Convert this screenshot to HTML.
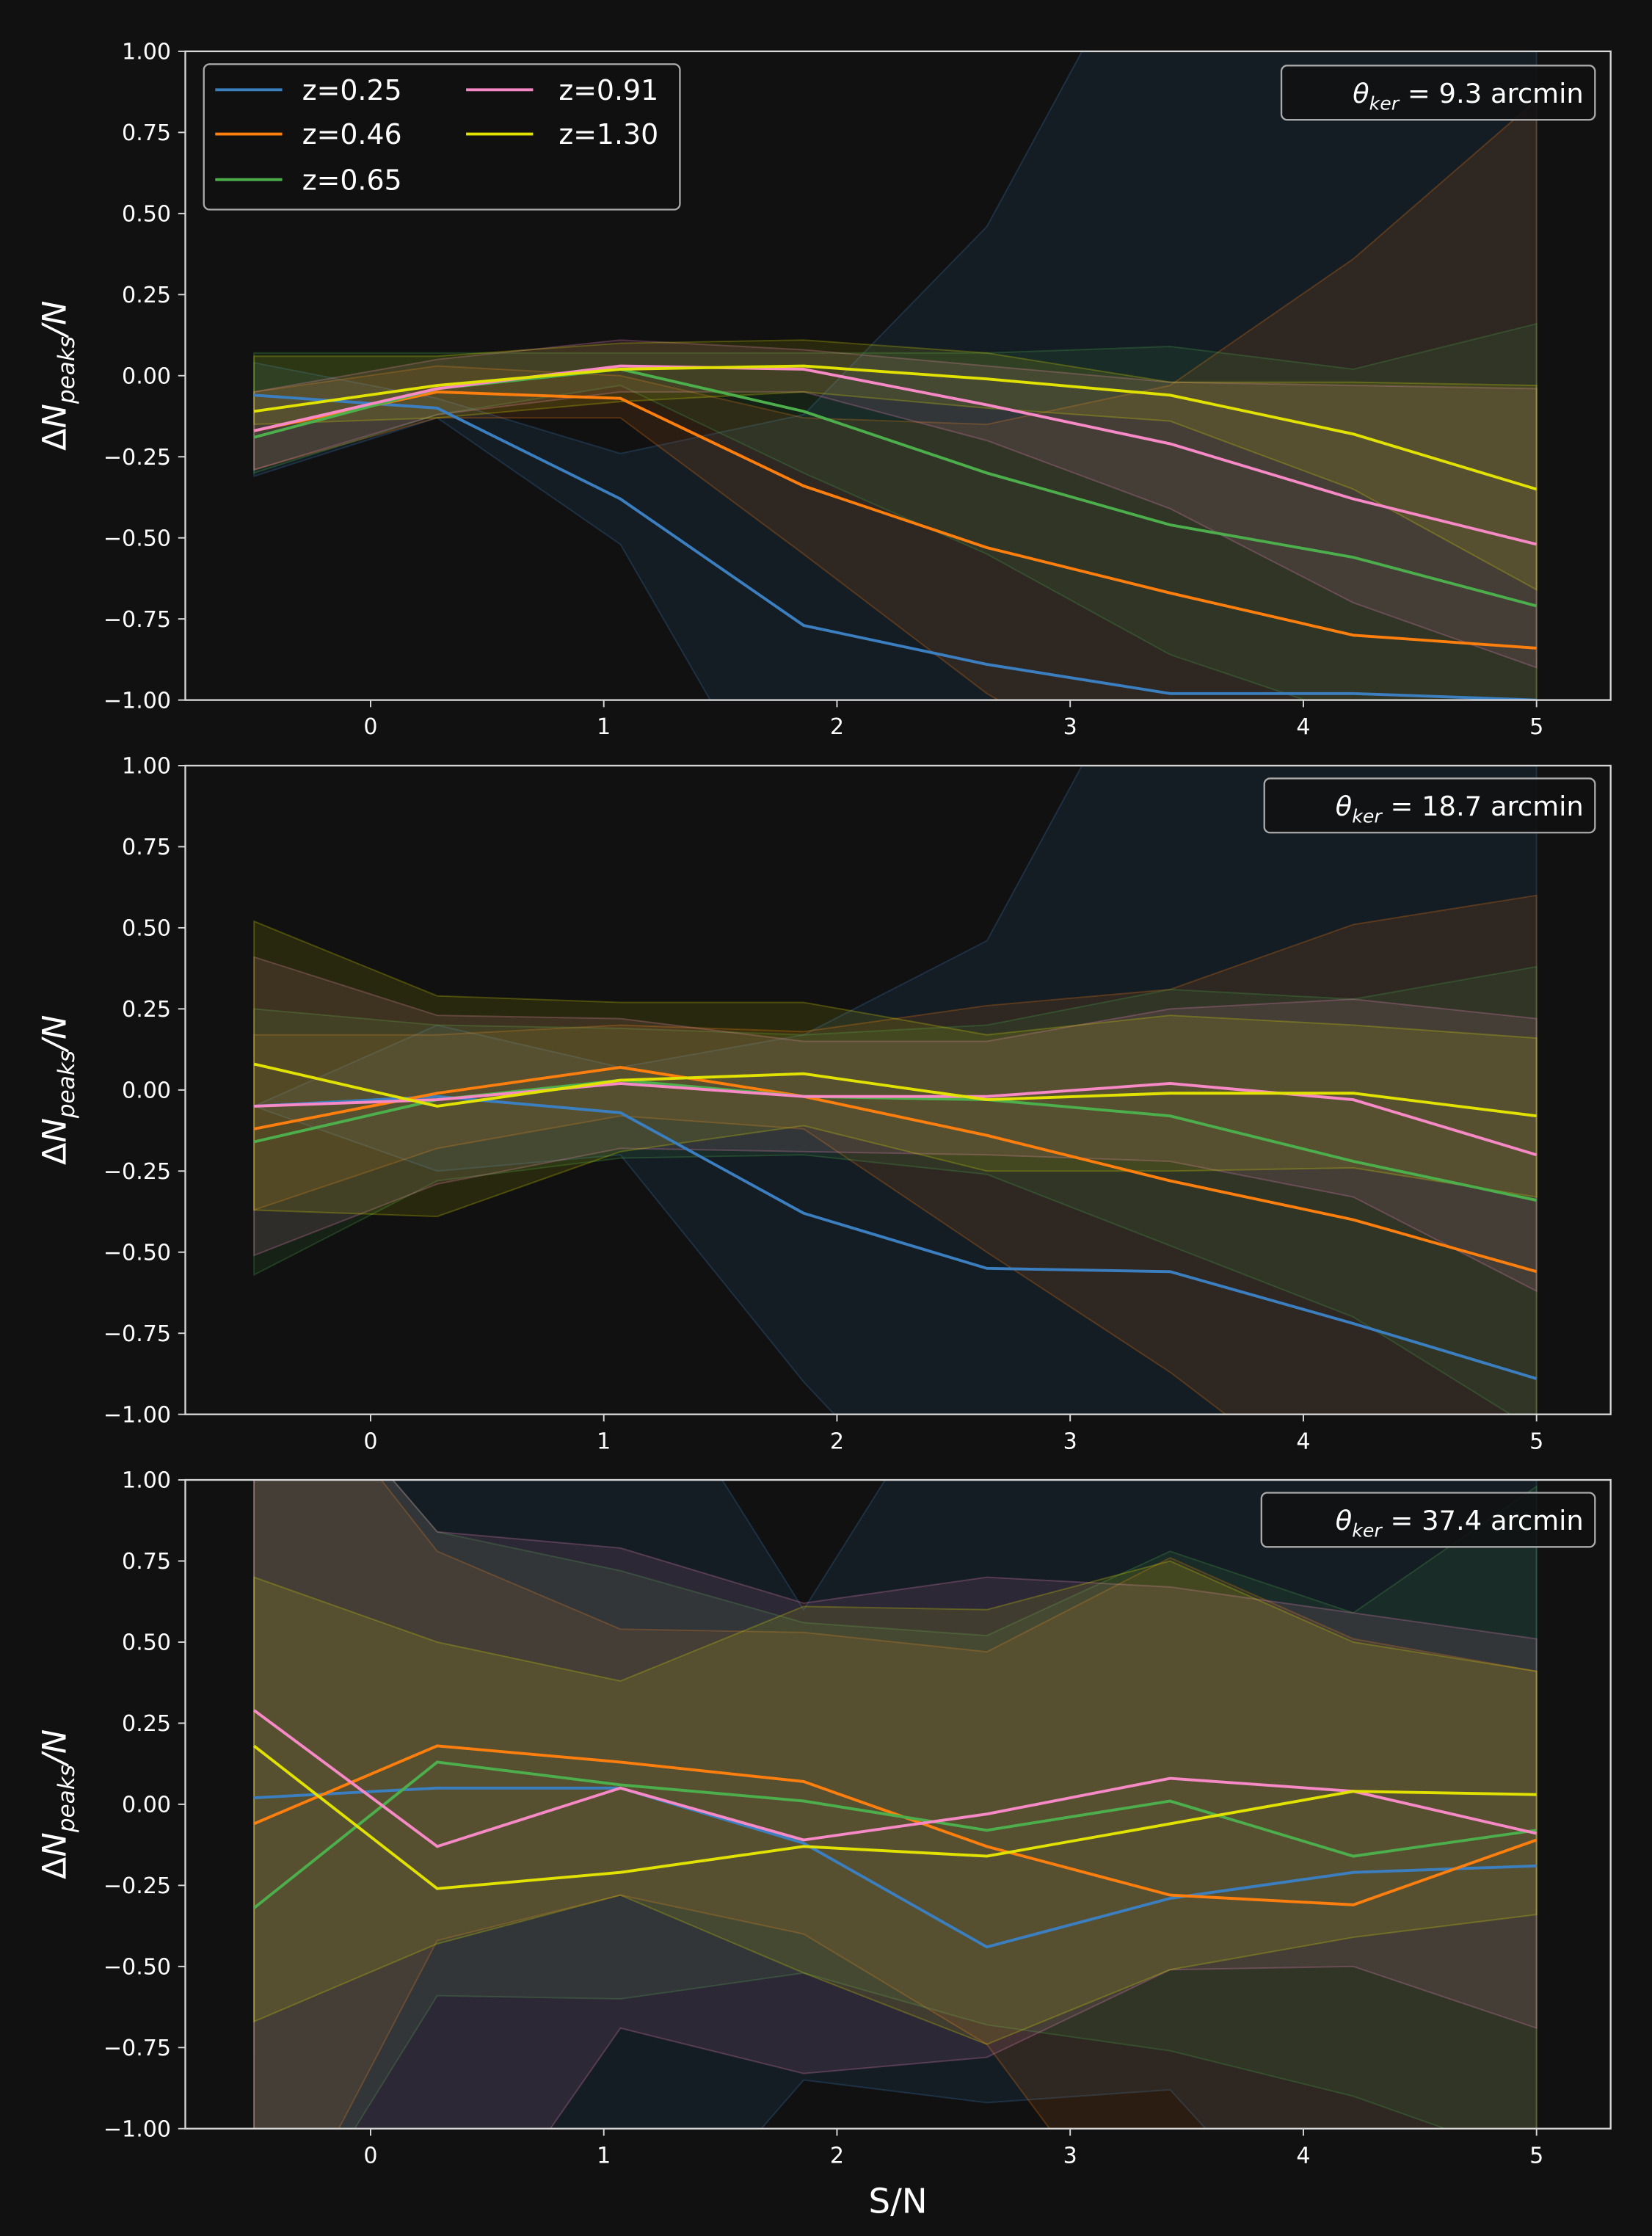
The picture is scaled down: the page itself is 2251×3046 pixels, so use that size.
<!DOCTYPE html>
<html><head><meta charset="utf-8"><style>
html,body{margin:0;padding:0;background:#111111;}
svg{display:block;}
text{font-family:"DejaVu Sans","Liberation Sans",sans-serif;fill:#ffffff;}
</style></head><body>
<svg id="chart" width="2251" height="3046" viewBox="0 0 1159 1568.3" preserveAspectRatio="none" xmlns="http://www.w3.org/2000/svg">
<rect width="1159" height="1568.3" fill="#111111"/>
</svg>
<script>
const xVals = [-0.5, 0.2857, 1.0714, 1.8571, 2.6429, 3.4286, 4.2143, 5.0];
const seriesNames = ["z=0.25","z=0.46","z=0.65","z=0.91","z=1.30"];
const colors = ["#3b7fc0","#ff7f0e","#4caf4c","#f78ac6","#e2e200"];
const kernelLabels = ["9.3","18.7","37.4"];
const yTicks = [-1.0,-0.75,-0.5,-0.25,0,0.25,0.5,0.75,1.0];
const yTickLabels = ["\u22121.00","\u22120.75","\u22120.50","\u22120.25","0.00","0.25","0.50","0.75","1.00"];
const xTicks = [0,1,2,3,4,5];

// panel 1 (9.3 arcmin)
const p1Lines = [
 [-0.06,-0.10,-0.38,-0.77,-0.89,-0.98,-0.98,-1.0],
 [-0.17,-0.05,-0.07,-0.34,-0.53,-0.67,-0.80,-0.84],
 [-0.19,-0.04,0.02,-0.11,-0.30,-0.46,-0.56,-0.71],
 [-0.17,-0.04,0.03,0.02,-0.09,-0.21,-0.38,-0.52],
 [-0.11,-0.03,0.02,0.03,-0.01,-0.06,-0.18,-0.35]];
const p1Lo = [
 [-0.31,-0.13,-0.52,-1.5,-1.5,-1.5,-1.5,-1.5],
 [-0.29,-0.13,-0.13,-0.55,-0.98,-1.3,-1.3,-1.3],
 [-0.30,-0.12,-0.03,-0.30,-0.55,-0.86,-1.05,-1.3],
 [-0.29,-0.12,-0.05,-0.05,-0.20,-0.41,-0.70,-0.90],
 [-0.15,-0.13,-0.08,-0.05,-0.10,-0.14,-0.35,-0.66]];
const p1Hi = [
 [0.04,-0.07,-0.24,-0.12,0.46,1.5,1.5,1.5],
 [-0.05,0.03,0.0,-0.13,-0.15,-0.03,0.36,0.85],
 [0.07,0.07,0.07,0.07,0.07,0.09,0.02,0.16],
 [-0.05,0.05,0.11,0.08,0.03,-0.02,-0.03,-0.04],
 [0.06,0.06,0.10,0.11,0.07,-0.02,-0.02,-0.03]];
// panel 2 (18.7 arcmin)
const p2Lines = [
 [-0.05,-0.02,-0.07,-0.38,-0.55,-0.56,-0.72,-0.89],
 [-0.12,-0.01,0.07,-0.02,-0.14,-0.28,-0.40,-0.56],
 [-0.16,-0.03,0.03,-0.02,-0.03,-0.08,-0.22,-0.34],
 [-0.05,-0.03,0.02,-0.02,-0.02,0.02,-0.03,-0.20],
 [0.08,-0.05,0.03,0.05,-0.03,-0.01,-0.01,-0.08]];
const p2Lo = [
 [-0.05,-0.25,-0.20,-0.90,-1.5,-1.5,-1.5,-1.5],
 [-0.37,-0.18,-0.08,-0.12,-0.50,-0.87,-1.3,-1.3],
 [-0.57,-0.28,-0.21,-0.20,-0.26,-0.48,-0.70,-1.05],
 [-0.51,-0.29,-0.18,-0.19,-0.20,-0.22,-0.33,-0.62],
 [-0.37,-0.39,-0.19,-0.11,-0.25,-0.25,-0.24,-0.33]];
const p2Hi = [
 [-0.05,0.20,0.07,0.17,0.46,1.5,1.5,1.5],
 [0.17,0.17,0.20,0.18,0.26,0.31,0.51,0.60],
 [0.25,0.20,0.19,0.17,0.20,0.31,0.28,0.38],
 [0.41,0.23,0.22,0.15,0.15,0.25,0.28,0.22],
 [0.52,0.29,0.27,0.27,0.17,0.23,0.20,0.16]];
// panel 3 (37.4 arcmin)
const p3Lines = [
 [0.02,0.05,0.05,-0.12,-0.44,-0.29,-0.21,-0.19],
 [-0.06,0.18,0.13,0.07,-0.13,-0.28,-0.31,-0.11],
 [-0.32,0.13,0.06,0.01,-0.08,0.01,-0.16,-0.08],
 [0.29,-0.13,0.05,-0.11,-0.03,0.08,0.04,-0.09],
 [0.18,-0.26,-0.21,-0.13,-0.16,-0.06,0.04,0.03]];
const p3Lo = [
 [-1.5,-1.5,-1.5,-0.85,-0.92,-0.88,-1.5,-1.5],
 [-1.5,-0.42,-0.28,-0.40,-0.74,-1.5,-1.5,-1.5],
 [-1.5,-0.59,-0.60,-0.52,-0.68,-0.76,-0.90,-1.1],
 [-1.5,-1.5,-0.69,-0.83,-0.78,-0.51,-0.50,-0.69],
 [-0.67,-0.43,-0.28,-0.52,-0.74,-0.51,-0.41,-0.34]];
const p3Hi = [
 [1.5,1.5,1.5,0.60,1.5,1.5,1.5,1.5],
 [1.5,0.78,0.54,0.53,0.47,0.76,0.51,0.41],
 [1.5,0.84,0.72,0.56,0.52,0.78,0.59,0.98],
 [1.5,0.84,0.79,0.62,0.70,0.67,0.59,0.51],
 [0.70,0.50,0.38,0.61,0.60,0.75,0.50,0.41]];

const panels = [
 {lines:p1Lines, lo:p1Lo, hi:p1Hi, top:36, legend:true, box:[899,46,220]},
 {lines:p2Lines, lo:p2Lo, hi:p2Hi, top:537, legend:false, box:[887,546,232]},
 {lines:p3Lines, lo:p3Lo, hi:p3Hi, top:1038, legend:false, box:[885,1047,234]}];

const NS="http://www.w3.org/2000/svg";
const svg=document.getElementById('chart');
const L=130,R=1130,H=455;
function xs(v){return 260+v*163.6;}
function mk(tag,attrs,parent){const e=document.createElementNS(NS,tag);for(const k in attrs)e.setAttribute(k,attrs[k]);(parent||svg).appendChild(e);return e;}

panels.forEach((p,pi)=>{
  const T=p.top,B=T+H;
  const ys=v=>T+(1-v)/2*H;
  const g=mk('g',{});
  
  
  const cid='clip'+pi;
  const cp=mk('clipPath',{id:cid},g);
  mk('rect',{x:L,y:T,width:R-L,height:H},cp);
  const plot=mk('g',{'clip-path':'url(#'+cid+')'},g);
  for(let s=0;s<5;s++){
    let pts=xVals.map((x,i)=>xs(x)+','+ys(p.hi[s][i]));
    pts=pts.concat(xVals.map((x,i)=>xs(x)+','+ys(p.lo[s][i])).reverse());
    const poly=mk('polygon',{points:pts.join(' '),fill:colors[s],'fill-opacity':0.11,stroke:colors[s],'stroke-opacity':0.25,'stroke-width':1},plot);
    
    
  }
  for(let s=0;s<5;s++){
    const pts=xVals.map((x,i)=>xs(x)+','+ys(p.lines[s][i])).join(' ');
    const pl=mk('polyline',{points:pts,fill:'none',stroke:colors[s],'stroke-width':2},plot);
    
    
  }
  const frame=mk('rect',{x:L,y:T,width:R-L,height:H,fill:'none',stroke:'#d8d8d8','stroke-width':1.2},g);
  
  
  yTicks.forEach((v,i)=>{
    mk('line',{x1:L-5,x2:L,y1:ys(v),y2:ys(v),stroke:'#d8d8d8','stroke-width':1},g);
    const t=mk('text',{x:L-10,y:ys(v)+5.5,'text-anchor':'end','font-size':15.5},g);
    t.textContent=yTickLabels[i];
    
    
  });
  xTicks.forEach(v=>{
    mk('line',{x1:xs(v),x2:xs(v),y1:B,y2:B+5,stroke:'#d8d8d8','stroke-width':1},g);
    const t=mk('text',{x:xs(v),y:B+24,'text-anchor':'middle','font-size':15.5},g);
    t.textContent=String(v);
    
    
  });
  const yl=mk('text',{x:0,y:0,'text-anchor':'middle','font-size':23,transform:'translate(46,'+(T+H/2)+') rotate(-90)'},g);
  yl.innerHTML='\u0394<tspan font-style="italic">N</tspan><tspan font-style="italic" font-size="16" dy="6">peaks</tspan><tspan dy="-6" font-style="italic">/N</tspan>';
  
  
  const [bx,by,bw]=p.box;
  const kb=mk('rect',{x:bx,y:by,width:bw,height:38,rx:4,fill:'#111111','fill-opacity':0.85,stroke:'#aaaaaa','stroke-width':1.2},g);
  
  
  const kt=mk('text',{x:1111,y:by+26,'text-anchor':'end','font-size':19},g);
  kt.innerHTML='<tspan font-style="italic">\u03b8</tspan><tspan font-style="italic" font-size="13" dy="5">ker</tspan><tspan dy="-5"> =  '+kernelLabels[pi]+' arcmin</tspan>';
  
  
  if(p.legend){
    const lg=mk('g',{});
    
    
    mk('rect',{x:143,y:45,width:334,height:102,rx:4,fill:'#111111','fill-opacity':0.85,stroke:'#aaaaaa','stroke-width':1.2},lg);
    const pos=[[151,63],[151,94],[151,126],[327,63],[327,94]];
    seriesNames.forEach((n,s)=>{
      const [lx,ly]=pos[s];
      const ln=mk('line',{x1:lx,x2:lx+47,y1:ly,y2:ly,stroke:colors[s],'stroke-width':2},lg);
      
      
      const tt=mk('text',{x:(s>2?392:212),y:ly+7,'font-size':19.5},lg);
      tt.textContent=n;
      
      
    });
  }
});
const xl=mk('text',{x:630,y:1552,'text-anchor':'middle','font-size':24});
xl.textContent='S/N';


</script>
</body></html>
